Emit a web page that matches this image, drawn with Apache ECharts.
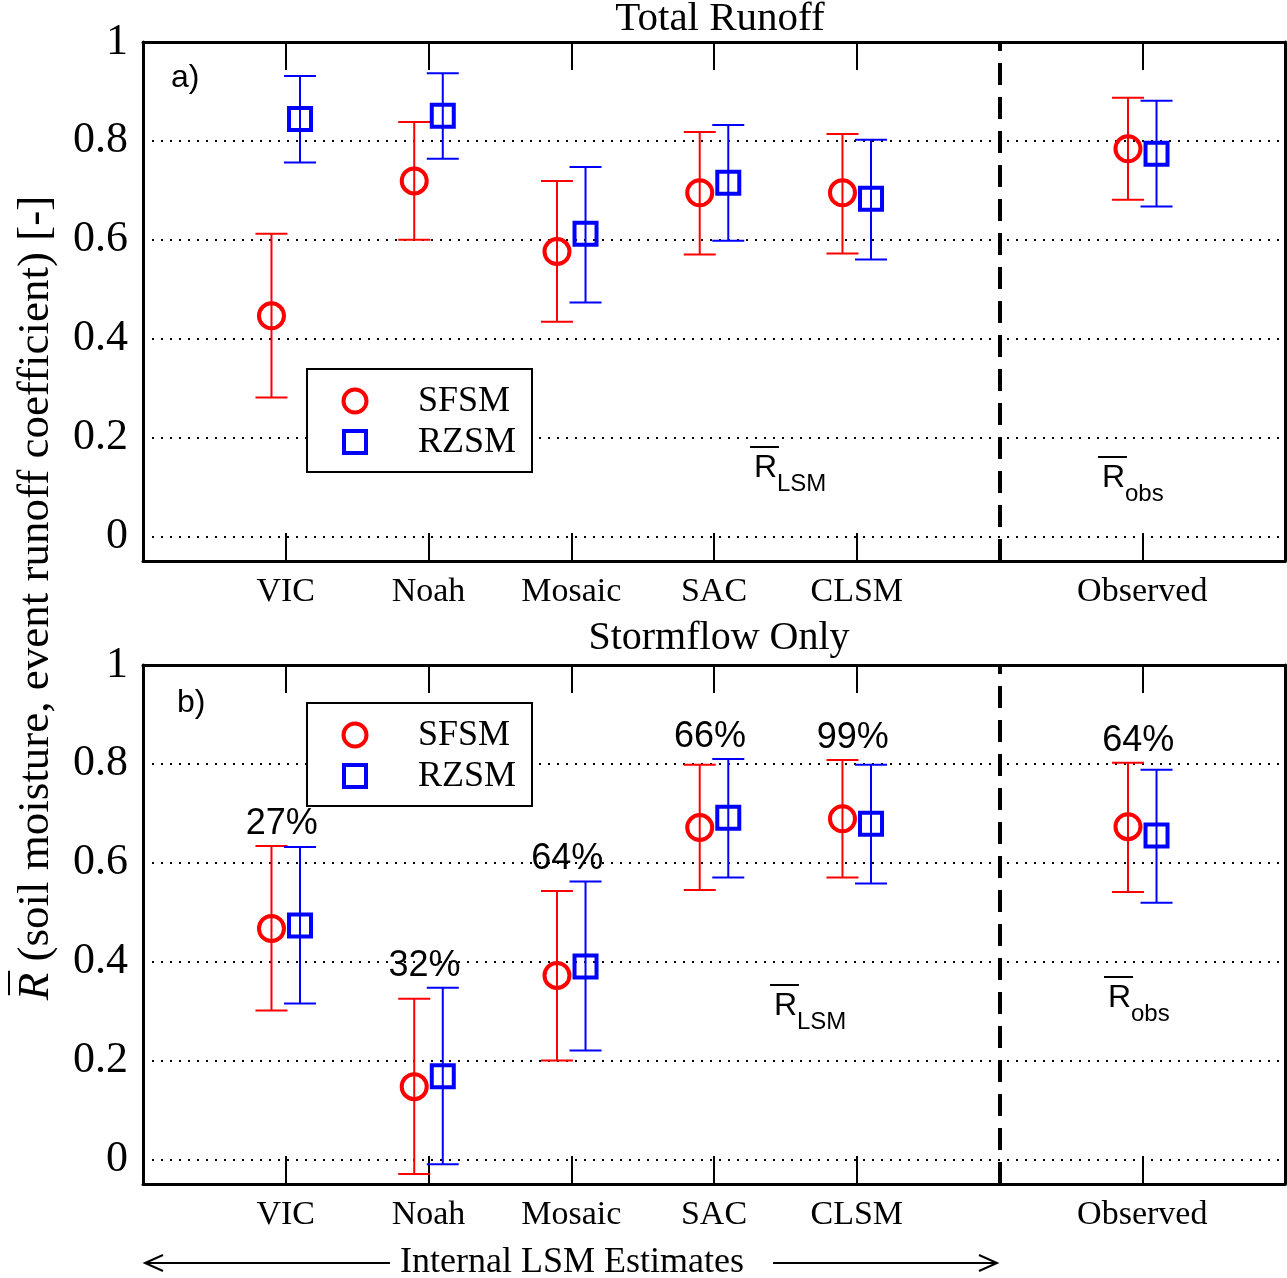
<!DOCTYPE html>
<html>
<head>
<meta charset="utf-8">
<script src="https://cdn.jsdelivr.net/npm/echarts@6/dist/echarts.min.js"></script>
<style>
html,body{margin:0;padding:0;background:#fff;}
#chart{width:1287px;height:1278px;}
</style>
</head>
<body>
<div id="chart"></div>
<script>
// ---------- data ----------
var categories = ['VIC', 'Noah', 'Mosaic', 'SAC', 'CLSM', 'Observed'];
var catPos = [1, 2, 3, 4, 5, 7];
var yTicks = [0, 0.2, 0.4, 0.6, 0.8, 1];
var gridTicks = [0, 0.2, 0.4, 0.6, 0.8];
var dividerPos = 6;

// Panel a) Total Runoff
var totalSF_mean = [0.446, 0.719, 0.576, 0.695, 0.695, 0.784];
var totalSF_low  = [0.281, 0.600, 0.434, 0.570, 0.572, 0.681];
var totalSF_high = [0.612, 0.838, 0.719, 0.818, 0.814, 0.887];
var totalRZ_mean = [0.844, 0.851, 0.612, 0.715, 0.683, 0.774];
var totalRZ_low  = [0.756, 0.764, 0.473, 0.598, 0.560, 0.667];
var totalRZ_high = [0.931, 0.937, 0.747, 0.832, 0.802, 0.881];

// Panel b) Stormflow Only
var stormSF_mean = [0.467, 0.147, 0.372, 0.671, 0.689, 0.673];
var stormSF_low  = [0.301, -0.030, 0.200, 0.545, 0.570, 0.541];
var stormSF_high = [0.634, 0.325, 0.543, 0.798, 0.808, 0.802];
var stormRZ_mean = [0.473, 0.168, 0.390, 0.691, 0.679, 0.655];
var stormRZ_low  = [0.315, -0.010, 0.220, 0.570, 0.558, 0.519];
var stormRZ_high = [0.632, 0.347, 0.562, 0.810, 0.798, 0.788];
var stormPct = ['27%', '32%', '64%', '66%', '99%', '64%'];

var panelTitles = ['Total Runoff', 'Stormflow Only'];
var panelTags = ['a)', 'b)'];
var seriesNames = ['SFSM', 'RZSM'];
var seriesOffset = [-0.1, 0.1];
var seriesColors = ['#ff0000', '#0000ff'];

// ---------- helpers ----------
var SERIF = '"Liberation Serif", "Times New Roman", serif';
var SANS = '"Liberation Sans", Arial, sans-serif';

function buildRows(mean, low, high, off) {
  return mean.map(function (m, i) { return [catPos[i] + off, m, low[i], high[i]]; });
}

function errRender(kind, color) {
  return function (params, api) {
    var x = api.value(0);
    var c = api.coord([x, api.value(1)]);
    var lo = api.coord([x, api.value(2)]);
    var hi = api.coord([x, api.value(3)]);
    var cap = 16;
    var ls = { stroke: color, lineWidth: 2 };
    var children = [
      { type: 'line', shape: { x1: c[0], y1: lo[1], x2: c[0], y2: hi[1] }, style: ls },
      { type: 'line', shape: { x1: c[0] - cap, y1: lo[1], x2: c[0] + cap, y2: lo[1] }, style: ls },
      { type: 'line', shape: { x1: c[0] - cap, y1: hi[1], x2: c[0] + cap, y2: hi[1] }, style: ls }
    ];
    if (kind === 'circle') {
      children.push({ type: 'circle', shape: { cx: c[0], cy: c[1], r: 12.5 },
        style: { fill: 'none', stroke: color, lineWidth: 4 } });
    } else {
      children.push({ type: 'rect', shape: { x: c[0] - 11, y: c[1] - 11, width: 22, height: 22 },
        style: { fill: 'none', stroke: color, lineWidth: 4 } });
    }
    return { type: 'group', children: children };
  };
}

var grids = [
  { left: 143, top: 42, width: 1142, height: 519 },
  { left: 143, top: 665, width: 1142, height: 519 }
];

var xAxes = [], yAxes = [], series = [];
[0, 1].forEach(function (g) {
  xAxes.push({
    type: 'value', gridIndex: g, min: 0, max: 8, position: 'bottom',
    axisLine: { show: true, onZero: false, lineStyle: { color: '#000', width: 3 } },
    axisTick: { show: true, inside: true, length: 28, customValues: catPos, lineStyle: { color: '#000', width: 2 } },
    axisLabel: { show: true, customValues: catPos, margin: 14, color: '#000', fontFamily: SERIF, fontSize: 34,
      formatter: function (v) { var i = catPos.indexOf(Math.round(v)); return i >= 0 ? categories[i] : ''; } },
    splitLine: { show: false }
  });
  xAxes.push({
    type: 'value', gridIndex: g, min: 0, max: 8, position: 'top',
    axisLine: { show: true, onZero: false, lineStyle: { color: '#000', width: 3 } },
    axisTick: { show: true, inside: true, length: 28, customValues: catPos, lineStyle: { color: '#000', width: 2 } },
    axisLabel: { show: false },
    splitLine: { show: false }
  });
  yAxes.push({
    type: 'value', gridIndex: g, min: -0.05, max: 1, position: 'left',
    axisLine: { show: true, onZero: false, lineStyle: { color: '#000', width: 3 } },
    axisTick: { show: false },
    axisLabel: { show: true, customValues: yTicks, margin: 15, color: '#000', fontFamily: SERIF, fontSize: 44,
      formatter: function (v) { return String(Math.round(v * 10) / 10); } },
    splitLine: { show: false }
  });
  yAxes.push({
    type: 'value', gridIndex: g, min: -0.05, max: 1, position: 'right',
    axisLine: { show: true, onZero: false, lineStyle: { color: '#000', width: 3 } },
    axisTick: { show: false }, axisLabel: { show: false }, splitLine: { show: false }
  });
});

var panelData = [
  [[totalSF_mean, totalSF_low, totalSF_high], [totalRZ_mean, totalRZ_low, totalRZ_high]],
  [[stormSF_mean, stormSF_low, stormSF_high], [stormRZ_mean, stormRZ_low, stormRZ_high]]
];

[0, 1].forEach(function (g) {
  series.push({
    type: 'line', xAxisIndex: g * 2, yAxisIndex: g * 2, data: [], silent: true, z: 1,
    markLine: {
      silent: true, symbol: 'none', animation: false, label: { show: false },
      data: gridTicks.map(function (t) {
        return { yAxis: t, lineStyle: { color: '#000', width: 2, type: [2, 7] } };
      }).concat([{ xAxis: dividerPos, lineStyle: { color: '#000', width: 4, type: [22, 12] } }])
    }
  });
  [0, 1].forEach(function (s) {
    var d = panelData[g][s];
    series.push({
      name: seriesNames[s], type: 'custom', xAxisIndex: g * 2, yAxisIndex: g * 2, z: 5,
      renderItem: errRender(s === 0 ? 'circle' : 'square', seriesColors[s]),
      data: buildRows(d[0], d[1], d[2], seriesOffset[s]),
      encode: { x: 0, y: [1, 2, 3] },
      animation: false
    });
  });
});

// percent labels for stormflow panel
series.push({
  type: 'custom', xAxisIndex: 2, yAxisIndex: 2, z: 6, animation: false,
  data: catPos.map(function (p, i) { return [p, Math.max(stormSF_high[i], stormRZ_high[i]), i]; }),
  renderItem: function (params, api) {
    var c = api.coord([api.value(0), api.value(1)]);
    return { type: 'text', style: { text: stormPct[api.value(2)], x: c[0] - 4, y: c[1] - 4,
      align: 'center', verticalAlign: 'bottom', font: '36px ' + SANS, fill: '#000' } };
  }
});

// ---------- annotations ----------
function legendGraphic(top) {
  return [
    { type: 'rect', shape: { x: 307, y: top, width: 225, height: 103 }, style: { fill: '#fff', stroke: '#000', lineWidth: 2 }, z: 10 },
    { type: 'circle', shape: { cx: 355, cy: top + 32, r: 11.5 }, style: { fill: 'none', stroke: seriesColors[0], lineWidth: 4 }, z: 11 },
    { type: 'rect', shape: { x: 344, y: top + 62, width: 22, height: 22 }, style: { fill: 'none', stroke: seriesColors[1], lineWidth: 4 }, z: 11 },
    { type: 'text', style: { text: seriesNames[0], x: 418, y: top + 33, verticalAlign: 'middle', font: '36px ' + SERIF, fill: '#000' }, z: 11 },
    { type: 'text', style: { text: seriesNames[1], x: 418, y: top + 74, verticalAlign: 'middle', font: '36px ' + SERIF, fill: '#000' }, z: 11 }
  ];
}
function rbar(x, y, sub) {
  return [
    { type: 'text', style: { text: 'R', x: x, y: y, verticalAlign: 'middle', font: '32px ' + SANS, fill: '#000' }, z: 11 },
    { type: 'line', shape: { x1: x - 4, y1: y - 21, x2: x + 25, y2: y - 21 }, style: { stroke: '#000', lineWidth: 2 }, z: 11 },
    { type: 'text', style: { text: sub, x: x + 23, y: y + 16, verticalAlign: 'middle', font: '24px ' + SANS, fill: '#000' }, z: 11 }
  ];
}
function arrowHead(x, y, dir) {
  return { type: 'polyline', shape: { points: [[x - dir * 18, y - 8], [x, y], [x - dir * 18, y + 8]] },
    style: { stroke: '#000', lineWidth: 2, fill: 'none' } };
}

var TITLE_FS = 45;
var graphics = []
  .concat(legendGraphic(369))
  .concat(legendGraphic(703))
  .concat(rbar(754, 468, 'LSM'))
  .concat(rbar(1102, 478, 'obs'))
  .concat(rbar(774, 1006, 'LSM'))
  .concat(rbar(1108, 998, 'obs'))
  .concat([
    { type: 'text', style: { text: panelTitles[0], x: 720, y: 19, align: 'center', verticalAlign: 'middle', font: '41px ' + SERIF, fill: '#000' } },
    { type: 'text', style: { text: panelTitles[1], x: 719, y: 638, align: 'center', verticalAlign: 'middle', font: '40px ' + SERIF, fill: '#000' } },
    { type: 'text', style: { text: panelTags[0], x: 171, y: 78, verticalAlign: 'middle', font: '32px ' + SANS, fill: '#000' } },
    { type: 'text', style: { text: panelTags[1], x: 177, y: 703, verticalAlign: 'middle', font: '32px ' + SANS, fill: '#000' } },
    { type: 'group', x: 36, y: 598, rotation: Math.PI / 2, children: [
      { type: 'text', style: { rich: { i: { fontStyle: 'italic', fontFamily: SERIF, fontSize: TITLE_FS }, n: { fontFamily: SERIF, fontSize: TITLE_FS } },
        text: '{i|R}{n| (soil moisture, event runoff coefficient) [-]}', x: 0, y: 0, align: 'center', verticalAlign: 'middle', fill: '#000' } }
    ] },
    { type: 'line', shape: { x1: 145, y1: 1263, x2: 390, y2: 1263 }, style: { stroke: '#000', lineWidth: 2 } },
    arrowHead(145, 1263, -1),
    { type: 'line', shape: { x1: 773, y1: 1263, x2: 997, y2: 1263 }, style: { stroke: '#000', lineWidth: 2 } },
    arrowHead(997, 1263, 1),
    { type: 'text', style: { text: 'Internal LSM Estimates', x: 572, y: 1263, align: 'center', verticalAlign: 'middle', font: '36px ' + SERIF, fill: '#000' } }
  ]);

var chart = echarts.init(document.getElementById('chart'), null, { renderer: 'canvas' });
chart.setOption({
  backgroundColor: '#fff',
  animation: false,
  grid: grids,
  xAxis: xAxes,
  yAxis: yAxes,
  series: series,
  graphic: graphics
});

// overbar over italic R of the rotated axis title
(function () {
  var probe = new echarts.graphic.Text({ style: { text: ' (soil moisture, event runoff coefficient) [-]', font: TITLE_FS + 'px ' + SERIF } });
  var rw = new echarts.graphic.Text({ style: { text: 'R', font: 'italic ' + TITLE_FS + 'px ' + SERIF } });
  var w1 = probe.getBoundingRect().width, w0 = rw.getBoundingRect().width;
  var total = w1 + w0;
  var startY = 598 + total / 2;
  graphics.push({ type: 'line', shape: { x1: 9, y1: startY - 5, x2: 9, y2: startY - w0 - 2 }, style: { stroke: '#000', lineWidth: 2 } });
  chart.setOption({ graphic: graphics });
})();
</script>
</body>
</html>
